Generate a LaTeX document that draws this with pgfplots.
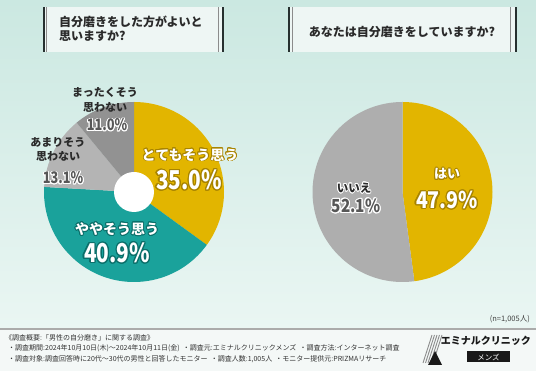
\documentclass[border=0pt]{standalone}
\usepackage{pgfplots}
\pgfplotsset{compat=1.18}
\usepackage{pgfplotstable}
\usepackage{graphicx}
\usepackage{fontspec}
\setmainfont{Noto Sans CJK JP}
\definecolor{cyel}{HTML}{E2B500}
\definecolor{cyelD}{HTML}{A88400}
\definecolor{cteal}{HTML}{1AA29B}
\definecolor{ctealD}{HTML}{0B6F6A}
\definecolor{clg}{HTML}{B4B4B4}
\definecolor{cdg}{HTML}{929292}
\definecolor{crg}{HTML}{AEAEAE}
\definecolor{bgtop}{HTML}{CBE8E1}
\definecolor{bgbot}{HTML}{EAF6F3}
\definecolor{bglow}{HTML}{F4F8F7}
\definecolor{boxfill}{HTML}{EEF6F4}
\definecolor{bar}{HTML}{26302F}
\definecolor{txt}{HTML}{2A2A2A}
\definecolor{gtxt}{HTML}{575757}

\newcommand\slice[3]{\fill[#3] (axis cs:0,0) -- (axis cs:{90*cos(#1)},{90*sin(#1)}) arc[start angle=#1,end angle=#2,radius=90pt] -- cycle;}
% outlined label: x y fill outline font radius text
\newcommand\olab[7]{%
  \foreach \a in {0,20,...,340}{\node[text=#4,font=#5,inner sep=0pt,shift={(\a:#6)}] at (#1,#2) {#7};}%
  \node[text=#3,font=#5,inner sep=0pt] at (#1,#2) {#7};}

\begin{document}
\begin{tikzpicture}[x=1pt,y=1pt]
\pgfplotstableread{
share
35.0
40.9
13.1
11.0
}\leftdata
\pgfplotstableread{
share
47.9
52.1
}\rightdata
\pgfplotstablegetelem{0}{share}\of\leftdata\edef\La{\pgfplotsretval}
\pgfplotstablegetelem{1}{share}\of\leftdata\edef\Lb{\pgfplotsretval}
\pgfplotstablegetelem{2}{share}\of\leftdata\edef\Lc{\pgfplotsretval}
\pgfplotstablegetelem{3}{share}\of\leftdata\edef\Ld{\pgfplotsretval}
\pgfplotstablegetelem{0}{share}\of\rightdata\edef\Ra{\pgfplotsretval}
\pgfplotstablegetelem{1}{share}\of\rightdata\edef\Rb{\pgfplotsretval}
\pgfmathsetmacro\Aa{90}
\pgfmathsetmacro\Ab{\Aa-3.6*\La}
\pgfmathsetmacro\Ac{\Ab-3.6*\Lb}
\pgfmathsetmacro\Ad{\Ac-3.6*\Lc}
\pgfmathsetmacro\Ae{\Ad-3.6*\Ld}
\pgfmathsetmacro\Ba{90}
\pgfmathsetmacro\Bb{\Ba-3.6*\Ra}
\pgfmathsetmacro\Bc{\Bb-3.6*\Rb}

% background
\shade[top color=bgtop,bottom color=bgbot] (0,42) rectangle (536,371);
\fill[bglow] (0,0) rectangle (536,42);
\draw[line width=1.5pt,color=black!33] (0,42) -- (536,42);

% title boxes
\fill[boxfill] (43,319) rectangle (223,364);
\fill[bar] (42.5,319) rectangle (44.5,364);
\fill[bar] (221.5,319) rectangle (223.5,364);
\draw[black!45,line width=0.6pt] (46.5,319) -- (46.5,364);
\draw[black!45,line width=0.6pt] (218.5,319) -- (218.5,364);
\node[anchor=west,align=left,text=txt,font=\fontsize{12}{13.5}\selectfont\bfseries,inner sep=0pt] at (59,342) {自分磨きをした方がよいと\\思いますか?};

\fill[boxfill] (288,319) rectangle (516,364);
\fill[bar] (288,319) rectangle (290,364);
\fill[bar] (514.5,319) rectangle (516.5,364);
\draw[black!45,line width=0.6pt] (292.5,319) -- (292.5,364);
\draw[black!45,line width=0.6pt] (510.5,319) -- (510.5,364);
\node[text=txt,font=\fontsize{12}{13.5}\selectfont\bfseries,inner sep=0pt] at (402,339) {あなたは自分磨きをしていますか?};

% left donut
\begin{axis}[at={(134pt,179pt)},anchor=origin,width=200pt,height=200pt,scale only axis,
  xmin=-100,xmax=100,ymin=-100,ymax=100,hide axis,clip=false]
\slice{\Aa}{\Ab}{cyel}
\slice{\Ab}{\Ac}{cteal}
\slice{\Ac}{\Ad}{clg}
\slice{\Ad}{\Ae}{cdg}
\fill[white] (axis cs:0,0) circle[radius=20pt];
\end{axis}

% right pie
\begin{axis}[at={(402.5pt,179pt)},anchor=origin,width=200pt,height=200pt,scale only axis,
  xmin=-100,xmax=100,ymin=-100,ymax=100,hide axis,clip=false]
\slice{\Ba}{\Bb}{cyel}
\slice{\Bb}{\Bc}{crg}
\end{axis}

% labels left
\node[text=txt,font=\fontsize{11}{12}\selectfont\bfseries,inner sep=0pt] at (105,279) {まったくそう};
\node[text=txt,font=\fontsize{11}{12}\selectfont\bfseries,inner sep=0pt] at (105,264) {思わない};
\olab{107}{246}{gtxt}{white}{\fontsize{16}{16}\selectfont\bfseries}{0.9pt}{\scalebox{0.8}[1]{11.0\%}}
\node[text=txt,font=\fontsize{11}{12}\selectfont\bfseries,inner sep=0pt] at (58,229) {あまりそう};
\node[text=txt,font=\fontsize{11}{12}\selectfont\bfseries,inner sep=0pt] at (58,215) {思わない};
\olab{63}{193}{gtxt}{white}{\fontsize{16}{16}\selectfont\bfseries}{0.9pt}{\scalebox{0.8}[1]{13.1\%}}
\olab{190}{216}{white}{cyelD}{\fontsize{14}{14}\selectfont\bfseries}{0.8pt}{とてもそう思う}
\olab{189}{191}{white}{cyelD}{\fontsize{26}{26}\selectfont\bfseries}{1.1pt}{\scalebox{0.8}[1]{35.0\%}}
\olab{117}{142}{white}{ctealD}{\fontsize{14}{14}\selectfont\bfseries}{0.8pt}{ややそう思う}
\olab{117}{118}{white}{ctealD}{\fontsize{26}{26}\selectfont\bfseries}{1.1pt}{\scalebox{0.8}[1]{40.9\%}}
% labels right
\olab{447}{197}{white}{cyelD}{\fontsize{13}{13}\selectfont\bfseries}{0.8pt}{はい}
\olab{447}{171}{white}{cyelD}{\fontsize{23}{23}\selectfont\bfseries}{1.1pt}{\scalebox{0.85}[1]{47.9\%}}
\olab{354}{183}{txt}{white}{\fontsize{11.5}{11.5}\selectfont\bfseries}{0.8pt}{いいえ}
\olab{356}{165}{gtxt}{white}{\fontsize{18}{18}\selectfont\bfseries}{1pt}{\scalebox{0.85}[1]{52.1\%}}

% footer
\node[anchor=east,text=black!75,font=\fontsize{7.5}{8}\selectfont,inner sep=0pt] at (530,52) {(n=1,005人)};
\node[anchor=west,text=black!80,font=\fontsize{7}{8}\selectfont,inner sep=0pt] at (5,33) {《調査概要:「男性の自分磨き」に関する調査》};
\node[anchor=west,text=black!80,font=\fontsize{7}{8}\selectfont,inner sep=0pt] at (8,22.5) {・調査期間:2024年10月10日(木)〜2024年10月11日(金)\ \ ・調査元:エミナルクリニックメンズ\ \ ・調査方法:インターネット調査};
\node[anchor=west,text=black!80,font=\fontsize{7}{8}\selectfont,inner sep=0pt] at (8,12) {・調査対象:調査回答時に20代〜30代の男性と回答したモニター\ \ ・調査人数:1,005人\ \ ・モニター提供元:PRIZMAリサーチ};

% logo
\foreach \i in {0,1,2,3,4}{\draw[black!45,line width=0.9pt] (423+2.5*\i,8) -- (432+2.5*\i,36);}
\fill[black!90] (428,6) -- (435,20) -- (442,6) -- cycle;
\node[anchor=east,text=black!90,font=\fontsize{10}{11}\selectfont\bfseries,inner sep=0pt] at (531,30) {エミナルクリニック};
\fill[black!90] (467,8.5) rectangle (510,19.5);
\node[text=white,font=\fontsize{7.5}{8}\selectfont,inner sep=0pt] at (488.5,14) {メンズ};
\pgfresetboundingbox
\path (0,0) rectangle (536,371);
\end{tikzpicture}
\end{document}
